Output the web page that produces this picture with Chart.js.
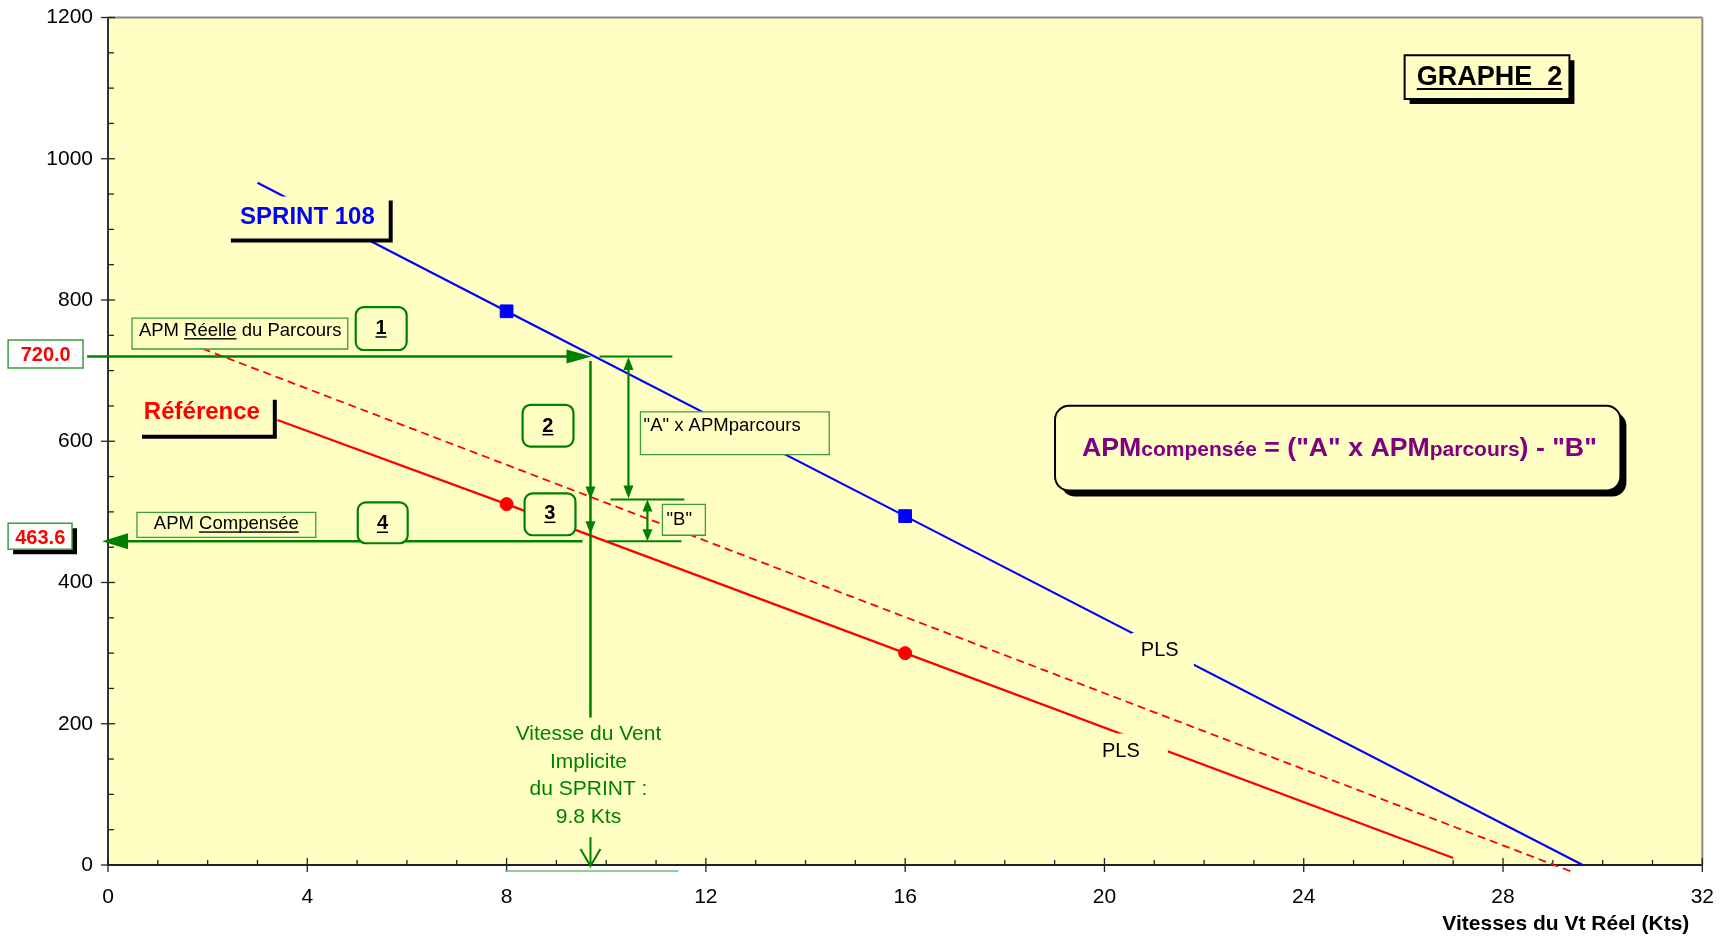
<!DOCTYPE html>
<html>
<head>
<meta charset="utf-8">
<script src="https://cdn.jsdelivr.net/npm/chart.js@4.4.1/dist/chart.umd.min.js"></script>
<style>
  html, body { margin: 0; padding: 0; background: #fff; }
</style>
</head>
<body>
<canvas id="graphe" width="1726" height="939"></canvas>
<script>
const FONT = "'Liberation Sans', Arial, sans-serif";
const BG = '#FFFFC4';
const GREEN = '#008000';
const BOXGREEN = '#3c9c3c';

// axis ticks
const xTicks = [0, 4, 8, 12, 16, 20, 24, 28, 32];
const yTicks = [0, 200, 400, 600, 800, 1000, 1200];

// SPRINT 108 (blue)
const sprintX = [3.0, 8, 16, 29.6];
const sprintY = [966, 784, 494, 0];
const sprintMarks = [false, true, true, false];

// Référence (red)
const refX = [3.4, 8, 16, 27.0];
const refY = [630, 511, 300, 10];
const refMarks = [false, true, true, false];

// reference scaled by "A" (red dashed)
const scaledX = [1.9, 29.4];
const scaledY = [731, -10];

// values written on the graph
const apmReelle = 720.0;
const apmCompensee = 463.6;
const ventImplicite = 9.8;

function pts(xs, ys) {
  return xs.map((x, i) => ({ x: x, y: ys[i] }));
}

function rrect(ctx, x, y, w, h, r) {
  ctx.beginPath();
  if (r) ctx.roundRect(x, y, w, h, r);
  else ctx.rect(x, y, w, h);
}

function box(ctx, x1, y1, x2, y2, o) {
  const w = x2 - x1, h = y2 - y1, r = o.radius || 0;
  if (o.shadow) {
    ctx.fillStyle = '#000';
    rrect(ctx, x1 + o.shadow, y1 + o.shadow, w, h, r);
    ctx.fill();
  }
  rrect(ctx, x1, y1, w, h, r);
  ctx.fillStyle = o.fill || BG;
  ctx.fill();
  if (o.stroke) {
    ctx.lineWidth = o.lw || 1;
    ctx.strokeStyle = o.stroke;
    ctx.stroke();
  }
}

// draw a run of text pieces (different sizes / underline)
function textRun(ctx, parts, x, y, align) {
  let total = 0;
  parts.forEach(p => {
    ctx.font = (p.bold ? 'bold ' : '') + p.size + 'px ' + FONT;
    p.w = ctx.measureText(p.t).width;
    total += p.w;
  });
  let sx = align === 'center' ? x - total / 2 : x;
  ctx.textAlign = 'left';
  ctx.textBaseline = 'alphabetic';
  parts.forEach(p => {
    ctx.font = (p.bold ? 'bold ' : '') + p.size + 'px ' + FONT;
    ctx.fillStyle = p.color || '#000';
    ctx.fillText(p.t, sx, y);
    if (p.u) {
      const th = Math.max(1.3, p.size * 0.075);
      ctx.fillRect(sx, y + p.size * 0.11, p.w, th);
    }
    sx += p.w;
  });
}

function line(ctx, x1, y1, x2, y2, color, lw) {
  ctx.beginPath();
  ctx.moveTo(x1, y1);
  ctx.lineTo(x2, y2);
  ctx.strokeStyle = color;
  ctx.lineWidth = lw;
  ctx.stroke();
}

// filled arrow head with tip at (x, y), pointing in direction (dx, dy)
function head(ctx, x, y, dx, dy, len, half, color) {
  const bx = x - dx * len, by = y - dy * len;
  ctx.beginPath();
  ctx.moveTo(x, y);
  ctx.lineTo(bx - dy * half, by + dx * half);
  ctx.lineTo(bx + dy * half, by - dx * half);
  ctx.closePath();
  ctx.fillStyle = color;
  ctx.fill();
}

const decor = {
  id: 'decor',
  beforeDraw(chart) {
    const ctx = chart.ctx, a = chart.chartArea;
    ctx.save();
    ctx.fillStyle = '#fff';
    ctx.fillRect(0, 0, chart.width, chart.height);
    ctx.fillStyle = BG;
    ctx.fillRect(a.left, a.top, a.right - a.left, a.bottom - a.top);
    ctx.restore();
  },
  beforeDatasetsDraw(chart) {
    const ctx = chart.ctx, a = chart.chartArea;
    const sx = chart.scales.x, sy = chart.scales.y;
    ctx.save();
    // frame top and right
    line(ctx, a.left, a.top, a.right, a.top, '#8a8a8a', 2);
    line(ctx, a.right, a.top, a.right, a.bottom, '#8a8a8a', 2);
    // tick marks: major cross the axis, minor inside
    for (let v = sx.min; v <= sx.max; v += 1) {
      const p = sx.getPixelForValue(v);
      if (xTicks.includes(v)) line(ctx, p, a.bottom - 7, p, a.bottom + 7, '#222', 1.3);
      else line(ctx, p, a.bottom - 5, p, a.bottom, '#222', 1.3);
    }
    for (let v = sy.min; v <= sy.max; v += 50) {
      const p = sy.getPixelForValue(v);
      if (yTicks.includes(v)) line(ctx, a.left - 7, p, a.left + 7, p, '#222', 1.3);
      else line(ctx, a.left, p, a.left + 6, p, '#222', 1.3);
    }
    ctx.restore();
  },
  afterDatasetsDraw(chart) {
    const ctx = chart.ctx, a = chart.chartArea;
    const X = v => chart.scales.x.getPixelForValue(v);
    const Y = v => chart.scales.y.getPixelForValue(v);
    ctx.save();

    // ----- step 1 : APM réelle du parcours -----
    box(ctx, X(-2.005), Y(743.3), X(-0.501), Y(703.8), { fill: '#fff', stroke: BOXGREEN, lw: 1.5 });
    textRun(ctx, [{ t: apmReelle.toFixed(1), size: 20, bold: true, color: '#f00' }], X(-1.25), Y(713.7), 'center');
    const y720 = Y(apmReelle);
    line(ctx, X(-0.42), y720, X(9.704) - 20, y720, GREEN, 2.5);
    head(ctx, X(9.704), y720, 1, 0, 25, 7, GREEN);
    line(ctx, X(9.865), y720, X(11.328), y720, GREEN, 2);

    box(ctx, X(0.481), Y(774.3), X(4.812), Y(730.6), { stroke: BOXGREEN, lw: 1.3 });
    textRun(ctx, [
      { t: 'APM ', size: 18.5 },
      { t: 'Réelle', size: 18.5, u: true },
      { t: ' du Parcours', size: 18.5 }
    ], X(0.62), Y(748.9), 'left');
    box(ctx, X(4.972), Y(789.8), X(5.995), Y(729.2), { stroke: GREEN, lw: 2.2, radius: 8 });
    textRun(ctx, [{ t: '1', size: 20, bold: true, u: true }], X(5.48), Y(751.8), 'center');

    // ----- step 2 : vertical down to the curves -----
    const xv = X(9.684);
    line(ctx, xv, Y(713.7), xv, Y(208.7), GREEN, 2.5);
    head(ctx, xv, Y(517.6), 0, 1, 13, 5, GREEN);
    head(ctx, xv, Y(468.3), 0, 1, 13, 5, GREEN);
    box(ctx, X(8.321), Y(651.6), X(9.343), Y(592.4), { stroke: GREEN, lw: 2.2, radius: 8 });
    textRun(ctx, [{ t: '2', size: 20, bold: true, u: true }], X(8.83), Y(613.5), 'center');

    // "A" x APMparcours dimension
    const xa = X(10.446);
    line(ctx, xa, Y(719.3) + 10, xa, Y(519.0) - 10, GREEN, 2.2);
    head(ctx, xa, Y(719.3), 0, -1, 13, 5, GREEN);
    head(ctx, xa, Y(519.0), 0, 1, 13, 5, GREEN);
    line(ctx, X(10.085), Y(517.6), X(11.569), Y(517.6), GREEN, 2);
    box(ctx, X(10.687), Y(641.7), X(14.476), Y(581.1), { stroke: BOXGREEN, lw: 1.3 });
    textRun(ctx, [{ t: '"A" x APMparcours', size: 18.5 }], X(10.75), Y(615.0), 'left');

    // "B" dimension
    const xb = X(10.827);
    line(ctx, xb, Y(517.6) + 10, xb, Y(458.4) - 10, GREEN, 2.2);
    head(ctx, xb, Y(517.6), 0, -1, 12, 5, GREEN);
    head(ctx, xb, Y(458.4), 0, 1, 12, 5, GREEN);
    line(ctx, X(10.025), Y(458.4), X(11.509), Y(458.4), GREEN, 2);
    box(ctx, X(11.128), Y(510.6), X(11.990), Y(466.9), { stroke: BOXGREEN, lw: 1.3 });
    textRun(ctx, [{ t: '"B"', size: 18.5 }], X(11.21), Y(481.0), 'left');

    // ----- step 3 -----
    box(ctx, X(8.361), Y(526.1), X(9.383), Y(466.9), { stroke: GREEN, lw: 2.2, radius: 8 });
    textRun(ctx, [{ t: '3', size: 20, bold: true, u: true }], X(8.87), Y(489.4), 'center');

    // ----- step 4 : APM compensée -----
    const yc = Y(458.4);
    line(ctx, X(9.524), yc, X(-0.12) + 22, yc, GREEN, 2.5);
    head(ctx, X(-0.12), yc, -1, 0, 26, 8, GREEN);
    box(ctx, X(0.581), Y(499.3), X(4.170), Y(464.0), { stroke: BOXGREEN, lw: 1.3 });
    textRun(ctx, [
      { t: 'APM ', size: 18.5 },
      { t: 'Compensée', size: 18.5, u: true }
    ], X(0.92), Y(475.3), 'left');
    box(ctx, X(5.013), Y(513.4), X(6.015), Y(455.6), { stroke: GREEN, lw: 2.2, radius: 8 });
    textRun(ctx, [{ t: '4', size: 20, bold: true, u: true }], X(5.51), Y(475.3), 'center');
    box(ctx, X(-2.005), Y(483.8), X(-0.722), Y(447.1), { fill: '#fff', stroke: BOXGREEN, lw: 1.5, shadow: 5 });
    textRun(ctx, [{ t: apmCompensee.toFixed(1), size: 20, bold: true, color: '#f00' }], X(-1.36), Y(454.2), 'center');

    // ----- implicit wind speed -----
    const vent = ['Vitesse du Vent', 'Implicite', 'du SPRINT :', ventImplicite + ' Kts'];
    const vy = [176.3, 136.8, 98.7, 59.2];
    vent.forEach((t, i) => textRun(ctx, [{ t: t, size: 21, color: GREEN }], X(9.644), Y(vy[i]), 'center'));
    line(ctx, xv, Y(39.5), xv, a.bottom, GREEN, 2);
    ctx.beginPath();
    ctx.moveTo(xv - 10, a.bottom - 16);
    ctx.lineTo(xv, a.bottom + 1);
    ctx.lineTo(xv + 10, a.bottom - 16);
    ctx.strokeStyle = GREEN;
    ctx.lineWidth = 2;
    ctx.stroke();
    line(ctx, X(7.98), a.bottom + 6, X(11.448), a.bottom + 6, '#6cc06c', 1.5);

    // ----- curve labels -----
    box(ctx, X(2.386), Y(946.4), X(5.634), Y(887.2), { shadow: 4 });
    textRun(ctx, [{ t: 'SPRINT 108', size: 24, bold: true, color: '#00f' }], X(2.65), Y(908.3), 'left');
    box(ctx, X(0.602), Y(664.3), X(3.308), Y(609.3), { shadow: 4 });
    textRun(ctx, [{ t: 'Référence', size: 24, bold: true, color: '#f00' }], X(0.72), Y(631.9), 'left');

    box(ctx, X(20.551), Y(328.6), X(21.794), Y(275.0), {});
    textRun(ctx, [{ t: 'PLS', size: 20 }], X(20.73), Y(296.2), 'left');
    box(ctx, X(19.79), Y(186.2), X(21.273), Y(134.0), {});
    textRun(ctx, [{ t: 'PLS', size: 20 }], X(19.95), Y(152.3), 'left');

    // ----- title and formula -----
    box(ctx, X(26.025), Y(1146.7), X(29.333), Y(1084.6), { stroke: '#000', lw: 2, shadow: 5 });
    textRun(ctx, [{ t: 'GRAPHE  2', size: 27, bold: true, u: true }], X(26.27), Y(1104.4), 'left');

    box(ctx, X(19.008), Y(650.2), X(30.356), Y(530.3), { stroke: '#000', lw: 2, radius: 14, shadow: 6 });
    const purple = '#800080';
    textRun(ctx, [
      { t: 'APM', size: 26.7, bold: true, color: purple },
      { t: 'compensée', size: 21, bold: true, color: purple },
      { t: ' = ("A" x ', size: 26.7, bold: true, color: purple },
      { t: 'APM', size: 26.7, bold: true, color: purple },
      { t: 'parcours', size: 21, bold: true, color: purple },
      { t: ') - "B"', size: 26.7, bold: true, color: purple }
    ], X(19.55), Y(579.7), 'left');

    // x axis title
    ctx.font = 'bold 21px ' + FONT;
    ctx.fillStyle = '#000';
    ctx.textAlign = 'right';
    ctx.textBaseline = 'alphabetic';
    ctx.fillText('Vitesses du Vt Réel (Kts)', X(31.74), a.bottom + 65);

    ctx.restore();
  }
};

const chart = new Chart(document.getElementById('graphe'), {
  type: 'line',
  data: {
    datasets: [
      {
        label: 'SPRINT 108',
        data: pts(sprintX, sprintY),
        borderColor: '#0000ff',
        backgroundColor: '#0000ff',
        borderWidth: 2.2,
        pointStyle: 'rect',
        pointRadius: sprintMarks.map(m => (m ? 9 : 0)),
        pointBorderWidth: 1,
        tension: 0
      },
      {
        label: 'Référence',
        data: pts(refX, refY),
        borderColor: '#ff0000',
        backgroundColor: '#ff0000',
        borderWidth: 2.2,
        pointStyle: 'circle',
        pointRadius: refMarks.map(m => (m ? 6.5 : 0)),
        pointBorderWidth: 1,
        tension: 0
      },
      {
        label: 'A x Référence',
        data: pts(scaledX, scaledY),
        borderColor: '#ff0000',
        borderWidth: 1.8,
        borderDash: [8, 5],
        pointRadius: 0,
        clip: false,
        tension: 0
      }
    ]
  },
  options: {
    responsive: false,
    animation: false,
    layout: { padding: { top: 0, right: 7, left: 0, bottom: 0 } },
    plugins: { legend: { display: false }, tooltip: { enabled: false } },
    scales: {
      x: {
        type: 'linear',
        min: 0,
        max: 32,
        grid: { display: false },
        border: { display: true, color: '#222', width: 2 },
        ticks: {
          stepSize: 1,
          autoSkip: false,
          maxRotation: 0,
          padding: 12,
          color: '#000',
          font: { family: FONT, size: 21 },
          callback: v => (xTicks.includes(v) ? String(v) : '')
        },
        afterFit: s => { s.height = 74; }
      },
      y: {
        min: 0,
        max: 1200,
        grid: { display: false },
        border: { display: true, color: '#333', width: 2 },
        ticks: {
          stepSize: 50,
          autoSkip: false,
          padding: 7,
          color: '#000',
          font: { family: FONT, size: 21, lineHeight: 1.0 },
          callback: v => (yTicks.includes(v) ? String(v) : '')
        },
        afterFit: s => { s.width = 108; }
      }
    }
  },
  plugins: [decor]
});
</script>
</body>
</html>
